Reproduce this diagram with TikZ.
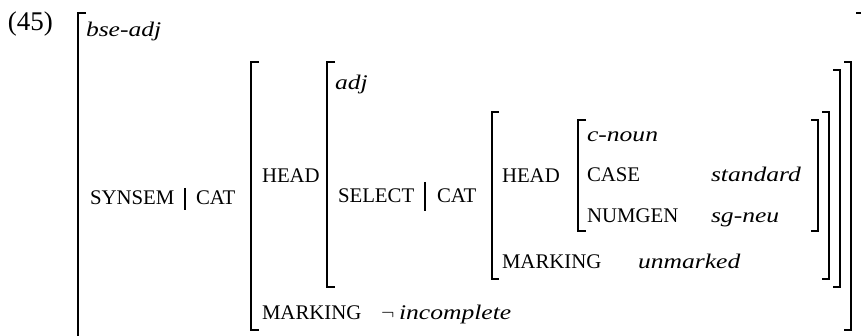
\documentclass[tikz,border=0pt]{standalone}
\usepackage{fontspec}
\setmainfont{Liberation Serif}[ItalicFeatures={FakeStretch=1.23}]
\tikzset{
  brk/.style={line width=1.1pt},
  sep/.style={line width=0.8pt},
  lbl/.style={anchor=base west,inner sep=0pt,outer sep=0pt},
}
\begin{document}
\begin{tikzpicture}[x=0.5pt,y=-0.5pt,font=\fontsize{10.4}{12}\selectfont]
    \useasboundingbox (0,0) rectangle (861,336);
    \node[lbl,font=\fontsize{13.5}{15}\selectfont] (num) at (8,31) {(45)};
    % outer matrix
    \draw[brk] (86,13) -| (78,345) -- (86,345);
    \draw[brk] (856,13) -| (863,345) -- (856,345);
    \node[lbl] (type) at (86,37) {\textit{bse-adj}};
    \node[lbl] (synsem) at (90,205) {SYNSEM};
    \node[lbl] (cat) at (196,205) {CAT};
    \draw[sep] (185,188) -- (185,210);
    % synsem|cat value
    \draw[brk] (259,62) -| (251,330) -- (259,330);
    \draw[brk] (844,62) -| (851,330) -- (844,330);
    \node[lbl] (head) at (262,183) {HEAD};
    \node[lbl] (marking) at (262,319) {MARKING};
    \node[lbl] (neg) at (381,319) {$\neg$};
    \node[lbl] (incomplete) at (399,319) {\textit{incomplete}};
    % head value
    \draw[brk] (335,62) -| (327,287) -- (335,287);
    \draw[brk] (833,70) -| (840,287) -- (833,287);
    \node[lbl] (adj) at (335,90) {\textit{adj}};
    \node[lbl] (select) at (338,203) {SELECT};
    \node[lbl] (selcat) at (437,203) {CAT};
    \draw[sep] (425,182) -- (425,211);
    % select|cat value
    \draw[brk] (499,112) -| (492,279) -- (499,279);
    \draw[brk] (822,112) -| (829,279) -- (822,279);
    \node[lbl] (selhead) at (502,183) {HEAD};
    \node[lbl] (selmarking) at (502,268) {MARKING};
    \node[lbl] (unmarked) at (638,268) {\textit{unmarked}};
    % noun head value
    \draw[brk] (586,120) -| (578,231) -- (586,231);
    \draw[brk] (811,120) -| (818,231) -- (811,231);
    \node[lbl] (cnoun) at (587,142) {\textit{c-noun}};
    \node[lbl] (case) at (587,182) {CASE};
    \node[lbl] (standard) at (711,182) {\textit{standard}};
    \node[lbl] (numgen) at (587,222) {NUMGEN};
    \node[lbl] (sgneu) at (711,222) {\textit{sg-neu}};
\end{tikzpicture}
\end{document}
